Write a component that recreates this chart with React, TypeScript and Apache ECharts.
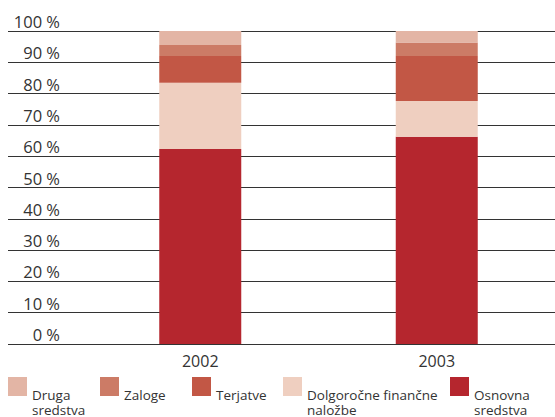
import React, { useEffect, useRef } from "react";
import * as echarts from "echarts";

const years = ["2002", "2003"];
const osnovna = [62.3, 66.2];
const dolgorocne = [21.2, 11.4];
const terjatve = [8.5, 14.4];
const zaloge = [3.5, 4.3];
const druga = [4.5, 3.7];
const yTicks = [0, 10, 20, 30, 40, 50, 60, 70, 80, 90, 100];

const seriesDefs = [
  { name: "Osnovna\nsredstva", data: osnovna, color: "#b5262e" },
  { name: "Dolgoročne finančne\nnaložbe", data: dolgorocne, color: "#efcfc0" },
  { name: "Terjatve", data: terjatve, color: "#c25745" },
  { name: "Zaloge", data: zaloge, color: "#cc7b66" },
  { name: "Druga\nsredstva", data: druga, color: "#e3b5a5" },
];

const legendOrder = [
  { def: 4, x: 8 },
  { def: 3, x: 100 },
  { def: 2, x: 192 },
  { def: 1, x: 283 },
  { def: 0, x: 450 },
];

const FONT = "'Open Sans', 'DejaVu Sans', sans-serif";

export default function App() {
  const ref = useRef<HTMLDivElement>(null);
  useEffect(() => {
    if (!ref.current) return;
    const chart = echarts.init(ref.current, undefined, { renderer: "svg" });
    const graphic: any[] = [];
    legendOrder.forEach((l) => {
      const d = seriesDefs[l.def];
      graphic.push({
        type: "rect",
        shape: { x: l.x, y: 377, width: 19, height: 19 },
        style: { fill: d.color },
      });
      d.name.split("\n").forEach((line, i) => {
        graphic.push({
          type: "text",
          x: l.x + 24,
          y: 395 + i * 14.5,
          style: {
            text: line,
            font: `13.5px ${FONT}`,
            fill: "#333",
            verticalAlign: "middle",
          },
        });
      });
    });
    chart.setOption({
      animation: false,
      textStyle: { fontFamily: FONT },
      grid: [
        { left: 8, right: 0, top: 31, bottom: 73 },
        { left: 82, right: 0, top: 31, bottom: 73 },
      ],
      xAxis: [
        { type: "value", gridIndex: 0, show: false, min: 0, max: 1 },
        {
          type: "category",
          gridIndex: 1,
          data: years,
          axisLine: { show: false },
          axisTick: { show: false },
          axisLabel: { fontSize: 16, color: "#333", margin: 9, fontFamily: FONT },
        },
      ],
      yAxis: [
        {
          type: "value",
          gridIndex: 0,
          min: 0,
          max: 100,
          interval: 10,
          axisLine: { show: false },
          axisTick: { show: false },
          splitLine: { show: true, lineStyle: { color: "#333", width: 1 } },
          axisLabel: {
            inside: true,
            align: "right",
            margin: 52,
            verticalAlign: "bottom",
            padding: [0, 0, 1, 0],
            fontSize: 16.5,
            color: "#333",
            fontFamily: FONT,
            formatter: (v: number) => (yTicks.includes(v) ? `${v} %` : ""),
          },
        },
        { type: "value", gridIndex: 1, min: 0, max: 100, show: false },
      ],
      series: seriesDefs.map((d) => ({
        type: "bar",
        name: d.name,
        stack: "total",
        xAxisIndex: 1,
        yAxisIndex: 1,
        barWidth: 82,
        data: d.data,
        itemStyle: { color: d.color },
      })),
      graphic,
    });
    return () => chart.dispose();
  }, []);
  return (
    <div
      ref={ref}
      style={{ position: "absolute", left: 0, top: 0, width: 555, height: 417 }}
    />
  );
}
